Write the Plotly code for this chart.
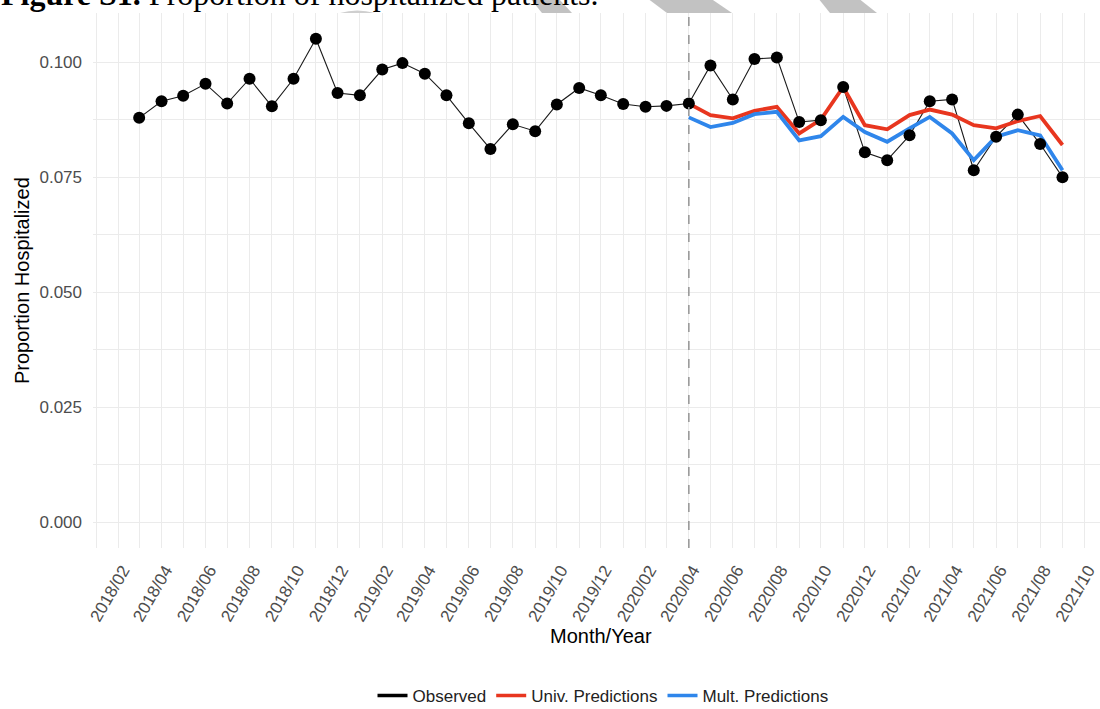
import plotly.graph_objects as go
import pandas as pd

# Monthly observed proportion of hospitalized patients
obs_months = pd.date_range("2018-03-01", "2021-09-01", freq="MS")
observed = [
    0.0879, 0.0915, 0.0927, 0.0953, 0.0910, 0.0964, 0.0904, 0.0964, 0.1051, 0.0933,
    0.0928, 0.0984, 0.0998, 0.0975, 0.0928, 0.0867, 0.0811, 0.0865, 0.0850, 0.0908,
    0.0944, 0.0928, 0.0909, 0.0903, 0.0905,
    0.0910, 0.0993, 0.0919, 0.1007, 0.1010, 0.0870, 0.0874, 0.0946, 0.0804,
    0.0787, 0.0841, 0.0915, 0.0919, 0.0765, 0.0838, 0.0886, 0.0822, 0.0750,
]

# Model predictions over the post-intervention period
pred_months = pd.date_range("2020-04-01", "2021-09-01", freq="MS")
univ_pred = [
    0.0910, 0.0885, 0.0878, 0.0894, 0.0903, 0.0845, 0.0875, 0.0946, 0.0863,
    0.0854, 0.0885, 0.0897, 0.0886, 0.0863, 0.0856, 0.0872, 0.0883, 0.0820,
]
mult_pred = [
    0.0880, 0.0859, 0.0868, 0.0887, 0.0892, 0.0830, 0.0839, 0.0881, 0.0848,
    0.0827, 0.0856, 0.0881, 0.0845, 0.0787, 0.0838, 0.0852, 0.0841, 0.0765,
]
intervention = "2020-04-01"

y_ticks = [0.0, 0.025, 0.05, 0.075, 0.1]
y_tick_text = ["0.000", "0.025", "0.050", "0.075", "0.100"]

W, H = 1100, 709
L, R, T, B = 93, 0, 13, 161
PW, PH = W - L - R, H - T - B


def px(x):
    return (x - L) / PW


def py(y):
    return (H - B - y) / PH


SANS = "Liberation Sans, Arial, sans-serif"

fig = go.Figure()
fig.add_trace(go.Scatter(
    x=obs_months, y=observed, mode="lines", showlegend=False,
    line=dict(color="#1a1a1a", width=1.1),
))
fig.add_trace(go.Scatter(
    x=pred_months, y=univ_pred, mode="lines", showlegend=False,
    line=dict(color="#e8361f", width=3.8),
))
fig.add_trace(go.Scatter(
    x=pred_months, y=mult_pred, mode="lines", showlegend=False,
    line=dict(color="#2f86eb", width=3.8),
))
fig.add_trace(go.Scatter(
    x=obs_months, y=observed, mode="markers", showlegend=False,
    marker=dict(color="black", size=12),
))

# Legend keys drawn with a uniform thick stroke
for name, color in [("Observed", "black"), ("Univ. Predictions", "#e8361f"),
                    ("Mult. Predictions", "#2f86eb")]:
    fig.add_trace(go.Scatter(x=[None], y=[None], mode="lines", name=name,
                             line=dict(color=color, width=3.5)))

# Intervention start
fig.add_shape(type="line", xref="x", yref="paper", x0=intervention, x1=intervention,
              y0=0, y1=1, line=dict(color="#9a9a9a", width=1.6, dash="dash"))

# Grey decorations along the top edge
for pts in [
    [(530, -2), (558, -2), (572, 13), (542, 13)],
    [(647, -2), (710, -2), (732, 13), (667, 13)],
    [(818, -2), (858, -2), (877, 13), (830, 13)],
]:
    path = "M " + " L ".join(f"{px(a):.5f},{py(b):.5f}" for a, b in pts) + " Z"
    fig.add_shape(type="path", xref="paper", yref="paper", path=path,
                  fillcolor="#c2c2c2", line=dict(width=0), layer="below")
fig.add_shape(type="path", xref="paper", yref="paper",
              path=f"M {px(340):.5f},{py(13):.5f} Q {px(357):.5f},{py(8):.5f} {px(375):.5f},{py(13):.5f} Z",
              fillcolor="#cfcfcf", line=dict(width=0), layer="below")

fig.add_annotation(
    xref="paper", yref="paper", x=px(-1), y=py(14), xanchor="left", yanchor="bottom",
    text="<b>Figure S1.</b> Proportion of hospitalized patients.", showarrow=False,
    font=dict(family="Liberation Serif, Times New Roman, serif", size=32, color="black"),
)
fig.add_annotation(
    xref="paper", yref="paper", x=px(601), y=py(636), xanchor="center", yanchor="middle",
    text="Month/Year", showarrow=False, font=dict(family=SANS, size=20, color="black"),
)
fig.add_annotation(
    xref="paper", yref="paper", x=px(22), y=py(281), xanchor="center", yanchor="middle",
    text="Proportion Hospitalized", textangle=-90, showarrow=False,
    font=dict(family=SANS, size=20, color="black"),
)

fig.update_layout(
    width=W, height=H,
    margin=dict(l=L, r=R, t=T, b=B, autoexpand=False),
    paper_bgcolor="white", plot_bgcolor="white",
    showlegend=True,
    legend=dict(orientation="h", x=px(603), xanchor="center", y=py(696), yanchor="middle",
                font=dict(family=SANS, size=17, color="#222222"), itemwidth=30),
    xaxis=dict(
        type="date", range=["2017-12-27", "2021-10-23"],
        tick0="2018-02-01", dtick="M2", tickformat="%Y/%m", tickangle=-60,
        showgrid=True, gridcolor="#ebebeb", gridwidth=1.3,
        minor=dict(dtick="M1", tick0="2018-01-01", showgrid=True, gridcolor="#ebebeb", gridwidth=1.3),
        zeroline=False, showline=False, ticks="", automargin=False,
        tickfont=dict(family=SANS, size=17, color="#4d4d4d"), ticklabelstandoff=8,
        ticklabelshift=4, ticklabeloverflow="allow",
    ),
    yaxis=dict(
        range=[-0.00565, 0.1107], tickvals=y_ticks, ticktext=y_tick_text,
        showgrid=True, gridcolor="#ebebeb", gridwidth=1.3,
        minor=dict(dtick=0.0125, tick0=0, showgrid=True, gridcolor="#ebebeb", gridwidth=1.0),
        zeroline=False, showline=False, ticks="", automargin=False,
        tickfont=dict(family=SANS, size=17, color="#4d4d4d"), ticklabelstandoff=10,
    ),
)

fig.write_html("out.html")
